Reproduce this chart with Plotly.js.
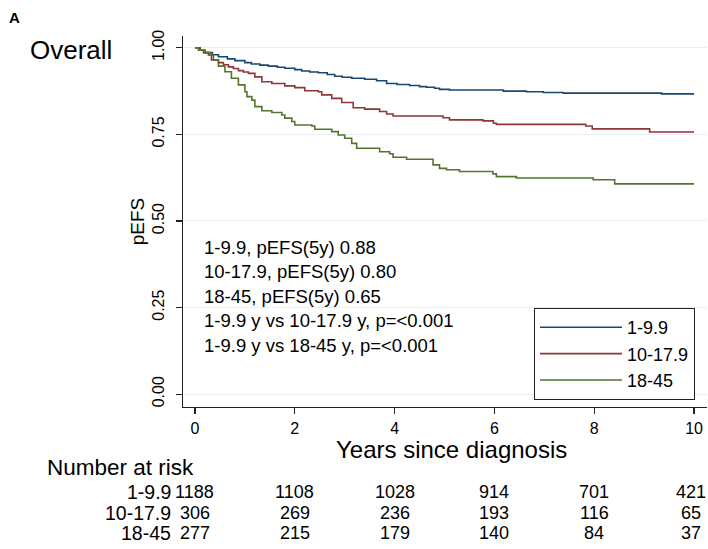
<!DOCTYPE html>
<html>
<head>
<meta charset="utf-8">
<script src="https://cdn.plot.ly/plotly-3.0.1.min.js"></script>
<style>
  html, body { margin: 0; padding: 0; background: #fff; }
  #chart { width: 708px; height: 549px; }
</style>
</head>
<body>
<div id="chart"></div>
<script>
// Kaplan-Meier event-free survival by age group (step functions)
const groupNames = ["1-9.9", "10-17.9", "18-45"];
const groupColors = ["#1a476f", "#90353b", "#55752f"];

const timesYoung = [0, 0.1, 0.2, 0.35, 0.47, 0.65, 0.8, 1.0, 1.13, 1.3, 1.47, 1.65, 1.8, 2.0, 2.14, 2.3, 2.47, 2.65, 2.8, 2.95, 3.14, 3.4, 3.64, 3.84, 4.05, 4.3, 4.5, 4.64, 4.8, 4.9, 5.1, 6.18, 6.64, 6.98, 7.38, 9.35, 10];
const survYoung  = [1.0, 0.993, 0.986, 0.980, 0.974, 0.968, 0.963, 0.957, 0.953, 0.950, 0.947, 0.944, 0.941, 0.937, 0.933, 0.930, 0.928, 0.923, 0.918, 0.915, 0.912, 0.909, 0.905, 0.897, 0.894, 0.891, 0.888, 0.886, 0.883, 0.880, 0.878, 0.875, 0.873, 0.871, 0.869, 0.867, 0.867];

const timesTeen = [0, 0.1, 0.17, 0.27, 0.33, 0.47, 0.57, 0.67, 0.77, 0.87, 0.97, 1.07, 1.2, 1.34, 1.54, 1.8, 2.0, 2.2, 2.47, 2.54, 2.74, 2.94, 3.17, 3.4, 3.7, 3.84, 3.97, 4.97, 5.1, 5.77, 5.98, 6.04, 7.83, 7.96, 9.11, 10];
const survTeen  = [1.0, 0.993, 0.986, 0.979, 0.965, 0.957, 0.951, 0.945, 0.940, 0.934, 0.930, 0.926, 0.916, 0.902, 0.897, 0.890, 0.885, 0.876, 0.873, 0.864, 0.854, 0.842, 0.827, 0.823, 0.816, 0.809, 0.803, 0.798, 0.792, 0.789, 0.782, 0.779, 0.774, 0.766, 0.757, 0.757];

const timesAdult = [0, 0.07, 0.2, 0.3, 0.37, 0.47, 0.6, 0.73, 0.87, 1.0, 1.04, 1.14, 1.2, 1.34, 1.54, 1.74, 1.8, 1.94, 2.0, 2.34, 2.4, 2.74, 2.87, 3.0, 3.14, 3.24, 3.7, 3.9, 3.97, 4.24, 4.77, 4.9, 5.04, 5.3, 5.97, 6.04, 6.44, 7.98, 8.41, 10];
const survAdult  = [1.0, 0.993, 0.986, 0.979, 0.965, 0.947, 0.931, 0.912, 0.893, 0.873, 0.859, 0.849, 0.830, 0.818, 0.813, 0.806, 0.797, 0.787, 0.777, 0.774, 0.765, 0.758, 0.748, 0.739, 0.724, 0.710, 0.700, 0.694, 0.684, 0.678, 0.662, 0.652, 0.648, 0.643, 0.636, 0.628, 0.624, 0.619, 0.607, 0.607];

// Number at risk at each tick time
const riskTimes = [0, 2, 4, 6, 8, 10];
const riskYoung = [1188, 1108, 1028, 914, 701, 421];
const riskTeen  = [306, 269, 236, 193, 116, 65];
const riskAdult = [277, 215, 179, 140, 84, 37];

const yTickVals = [0, 0.25, 0.5, 0.75, 1];
const yTickText = ["0.00", "0.25", "0.50", "0.75", "1.00"];
const xTickVals = [0, 2, 4, 6, 8, 10];

const pValueLines = [
  "1-9.9 y vs 10-17.9 y, p=<0.001",
  "1-9.9 y vs 18-45 y, p=<0.001"
];

const FONT = "Liberation Sans, Arial, sans-serif";

const seriesX = [timesYoung, timesTeen, timesAdult];
const seriesY = [survYoung, survTeen, survAdult];
const riskRows = [riskYoung, riskTeen, riskAdult];

// survival estimate at time t from a step function
function survAt(xs, ys, t) {
  let v = ys[0];
  for (let i = 0; i < xs.length; i++) { if (xs[i] <= t) v = ys[i]; }
  return v;
}

const traces = groupNames.map((name, i) => ({
  type: "scatter",
  mode: "lines",
  name: name,
  x: seriesX[i],
  y: seriesY[i],
  line: { color: groupColors[i], width: 1.6, shape: "hv" },
  hoverinfo: "skip"
}));

// plot area geometry in px (for paper-coordinate text placement)
const W = 708, H = 549;
const M = { l: 183, r: 1, t: 36, b: 142 };
const pw = W - M.l - M.r, ph = H - M.t - M.b;
const px = (x) => (x - M.l) / pw;
const py = (y) => (H - M.b - y) / ph;

const annotations = [];

annotations.push({ xref: "paper", yref: "paper", x: px(7), y: py(17), xanchor: "left", yanchor: "middle",
  text: "<b>A</b>", showarrow: false, font: { family: FONT, size: 15, color: "#000" } });
annotations.push({ xref: "paper", yref: "paper", x: px(28), y: py(50), xanchor: "left", yanchor: "middle",
  text: "Overall", showarrow: false, font: { family: FONT, size: 26, color: "#000" } });

// x-axis title
annotations.push({ xref: "paper", yref: "paper", x: px(451), y: py(449.5), xanchor: "center", yanchor: "middle",
  text: "Years since diagnosis", showarrow: false, font: { family: FONT, size: 24, color: "#000" } });

// summary text block inside the plot
const infoLines = groupNames.map((n, i) => n + ", pEFS(5y) " + survAt(seriesX[i], seriesY[i], 5).toFixed(2)).concat(pValueLines);
const infoY = [247.3, 271.7, 296.3, 320.7, 345.7];
infoLines.forEach((t, k) => {
  annotations.push({ xref: "paper", yref: "paper", x: px(202), y: py(infoY[k]), xanchor: "left", yanchor: "middle",
    text: t, showarrow: false, font: { family: FONT, size: 18.5, color: "#000" } });
});

// number-at-risk table
annotations.push({ xref: "paper", yref: "paper", x: px(45), y: py(467), xanchor: "left", yanchor: "middle",
  text: "Number at risk", showarrow: false, font: { family: FONT, size: 22.5, color: "#000" } });
const rowY = [491.7, 513.3, 533.3];
groupNames.forEach((n, r) => {
  annotations.push({ xref: "paper", yref: "paper", x: px(172.5), y: py(rowY[r]), xanchor: "right", yanchor: "middle",
    text: n, showarrow: false, font: { family: FONT, size: 19.5, color: "#000" } });
  riskTimes.forEach((t, c) => {
    const last = c === riskTimes.length - 1;
    annotations.push({ xref: "x", yref: "paper", x: t, y: py(rowY[r]), xanchor: "center", yanchor: "middle",
      xshift: last ? -3 : 0,
      text: String(riskRows[r][c]), showarrow: false, font: { family: FONT, size: 18, color: "#000" } });
  });
});

const layout = {
  width: W, height: H,
  margin: M,
  paper_bgcolor: "#fff",
  plot_bgcolor: "#fff",
  showlegend: true,
  font: { family: FONT, color: "#000" },
  xaxis: {
    range: [-0.24, 10.26],
    tickvals: xTickVals,
    ticks: "outside", ticklen: 6, tickwidth: 1.2, tickcolor: "#222",
    showline: true, linecolor: "#222", linewidth: 1.3,
    showgrid: false, zeroline: false,
    tickfont: { family: FONT, size: 16, color: "#000" }
  },
  yaxis: {
    range: [-0.037, 1.034],
    tickvals: yTickVals, ticktext: yTickText,
    tickangle: -90,
    ticks: "outside", ticklen: 6, tickwidth: 1.2, tickcolor: "#222",
    ticklabelstandoff: 5,
    showline: true, linecolor: "#222", linewidth: 1.3,
    showgrid: true, gridcolor: "#e8f0f3", gridwidth: 1,
    zeroline: false,
    tickfont: { family: FONT, size: 16, color: "#000" },
    title: { text: "pEFS", font: { family: FONT, size: 19, color: "#000" }, standoff: 0 }
  },
  legend: {
    x: px(695), xanchor: "right",
    y: py(400), yanchor: "bottom",
    bgcolor: "#fff", bordercolor: "#222", borderwidth: 1,
    font: { family: FONT, size: 18, color: "#000" },
    itemwidth: 82,
    tracegroupgap: 0
  },
  annotations: annotations
};

Plotly.newPlot("chart", traces, layout, { displayModeBar: false, staticPlot: true });
</script>
</body>
</html>
